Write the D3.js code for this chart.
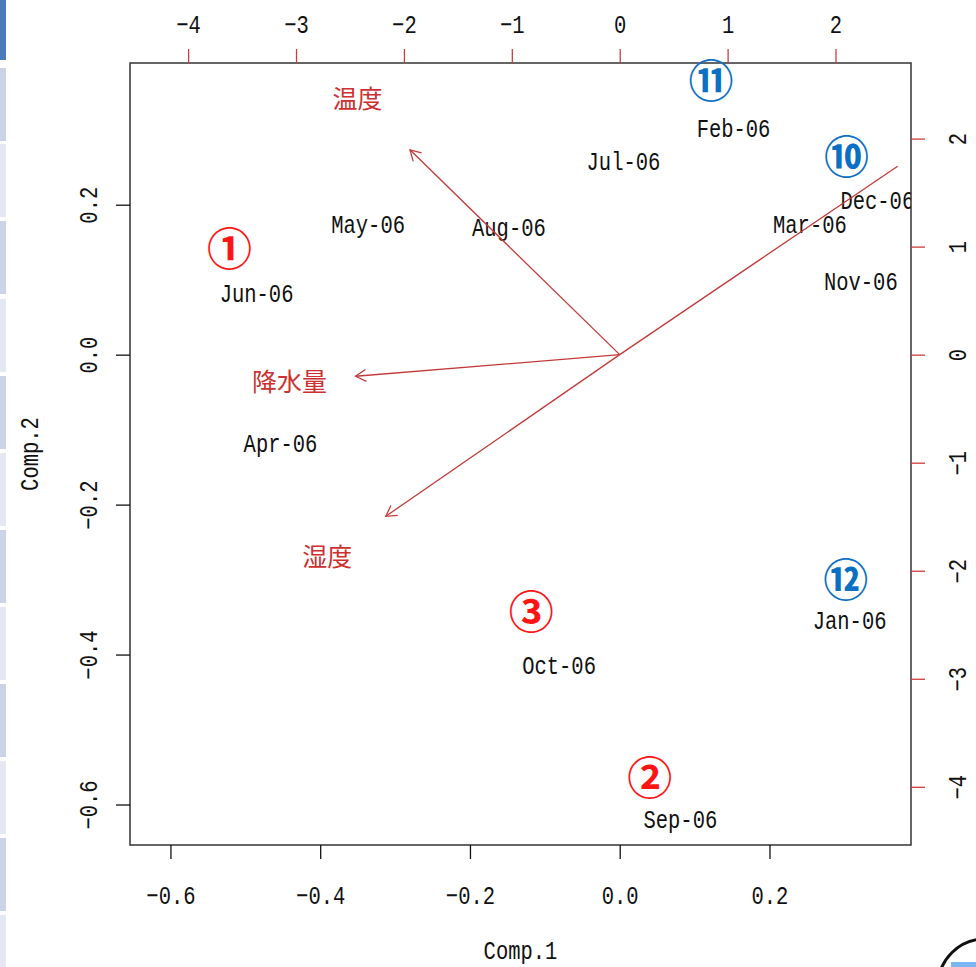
<!DOCTYPE html>
<html>
<head>
<meta charset="utf-8">
<script src="https://cdn.jsdelivr.net/npm/d3@7"></script>
<style>
  body { margin: 0; background: #fff; }
  svg { display: block; }
  .mono { font-family: "Liberation Mono", "DejaVu Sans Mono", monospace; font-size: 20.5px; fill: #111; }
  .jp { font-family: "Noto Sans CJK JP", sans-serif; }
</style>
</head>
<body>
<div id="chart"></div>
<script>
// principal component scores, one per month
var months = ["Jan-06", "Feb-06", "Mar-06", "Apr-06", "May-06", "Jun-06",
              "Jul-06", "Aug-06", "Sep-06", "Oct-06", "Nov-06", "Dec-06"]
var comp1 = [0.307, 0.152, 0.254, -0.453, -0.336, -0.485, 0.005, -0.148, 0.081, -0.081, 0.322, 0.344]
var comp2 = [-0.354, 0.303, 0.175, -0.118, 0.174, 0.082, 0.258, 0.170, -0.619, -0.413, 0.099, 0.207]

// loadings (label position, arrow goes to 0.8 of it)
var varNames = ["温度", "降水量", "湿度", ""]
var load1 = [-2.43, -3.06, -2.71, 3.22]
var load2 = [2.37, -0.25, -1.87, 2.18]

// circled numbers written over the plot
var marks = ["①", "②", "③", "⑩", "⑪", "⑫"]
var markX = [-0.521, 0.040, -0.118, 0.303, 0.122, 0.302]
var markY = [0.140, -0.566, -0.344, 0.263, 0.364, -0.301]
var markGroup = ["red", "red", "red", "blue", "blue", "blue"]

var scoreTicks = [-0.6, -0.4, -0.2, 0.0, 0.2]
var loadTicks = [-4, -3, -2, -1, 0, 1, 2]
var lim = [-0.654, 0.389]
var ratio = 6.94

var W = 976, H = 967
var box = {left: 130, top: 63, right: 911, bottom: 845}
var arrowCol = "#c43a3a"
var stretch = "scale(1,1.25)"

var svg = d3.select("#chart").append("svg")
  .attr("width", W)
  .attr("height", H)

// screenshot chrome: side strip and corner widget
var stripTops = [68, 144, 221, 299, 376, 453, 530, 607, 684, 761, 838, 915]
svg.append("rect").attr("x", 0).attr("y", 0).attr("width", 6).attr("height", 60).attr("fill", "#4a7cbc")
svg.selectAll("rect.strip").data(stripTops).enter().append("rect")
  .attr("class", "strip")
  .attr("x", 0).attr("y", d => d)
  .attr("width", 6).attr("height", 73)
  .attr("fill", (d, i) => i % 2 ? "#e3e8f2" : "#cbd4e7")
svg.append("circle").attr("cx", 985).attr("cy", 986).attr("r", 47)
  .attr("fill", "none").attr("stroke", "#111").attr("stroke-width", 3)
svg.append("rect").attr("x", 951).attr("y", 962).attr("width", 25).attr("height", 5).attr("fill", "#7ab6f2")

var x = d3.scaleLinear().domain(lim).range([box.left, box.right])
var y = d3.scaleLinear().domain(lim).range([box.bottom, box.top])
var lx = d3.scaleLinear().domain(lim.map(v => v * ratio)).range([box.left, box.right])
var ly = d3.scaleLinear().domain(lim.map(v => v * ratio)).range([box.bottom, box.top])

svg.append("clipPath")
  .attr("id", "clip")
  .append("rect")
  .attr("x", box.left)
  .attr("y", box.top)
  .attr("width", box.right - box.left)
  .attr("height", box.bottom - box.top)

var plot = svg.append("g").attr("clip-path", "url(#clip)")

// month labels
months.forEach(function(m, i) {
  plot.append("g")
    .attr("transform", "translate(" + x(comp1[i]) + "," + y(comp2[i]) + ") " + stretch)
    .append("text")
    .attr("class", "mono")
    .attr("text-anchor", "middle")
    .attr("dy", "0.36em")
    .text(m)
})

function head(x0, y0, x1, y1) {
  var a = Math.atan2(y1 - y0, x1 - x0), L = 12, s = Math.PI / 6
  return "M" + (x1 - L * Math.cos(a - s)) + "," + (y1 - L * Math.sin(a - s)) +
    "L" + x1 + "," + y1 +
    "L" + (x1 - L * Math.cos(a + s)) + "," + (y1 - L * Math.sin(a + s))
}

var lo = lim[0] * ratio, hi = lim[1] * ratio
varNames.forEach(function(v, i) {
  var x0 = lx(0), y0 = ly(0)
  var x1 = lx(load1[i] * 0.8), y1 = ly(load2[i] * 0.8)
  plot.append("line")
    .attr("x1", x0).attr("y1", y0).attr("x2", x1).attr("y2", y1)
    .attr("stroke", arrowCol).attr("stroke-width", 1.3)
  // no head when the label falls outside the plot (R drops it)
  var inside = load1[i] > lo && load1[i] < hi && load2[i] > lo && load2[i] < hi
  if (inside) {
    plot.append("path")
      .attr("d", head(x0, y0, x1, y1))
      .attr("fill", "none").attr("stroke", arrowCol).attr("stroke-width", 1.3)
  }
  plot.append("text")
    .attr("class", "jp")
    .attr("x", lx(load1[i])).attr("y", ly(load2[i]))
    .attr("text-anchor", "middle").attr("dy", "0.36em")
    .attr("font-size", 25)
    .attr("fill", "#cc3030")
    .text(v)
})

// frame
svg.append("rect")
  .attr("x", box.left).attr("y", box.top)
  .attr("width", box.right - box.left).attr("height", box.bottom - box.top)
  .attr("fill", "none").attr("stroke", "#333").attr("stroke-width", 1.5)

// axes
function styleAxis(g, tickCol) {
  g.select(".domain").remove()
  g.selectAll(".tick line").attr("stroke", tickCol).attr("stroke-width", 1.3)
  g.selectAll(".tick text").attr("class", "mono").attr("fill", "#111")
}

var axBottom = svg.append("g")
  .attr("transform", "translate(0," + box.bottom + ")")
  .call(d3.axisBottom(x).tickValues(scoreTicks).tickFormat(d3.format(".1f")).tickSize(14).tickPadding(0))
styleAxis(axBottom, "#111")
axBottom.selectAll(".tick text").attr("y", 0)
  .attr("transform", "translate(0,50) " + stretch).attr("dy", "0.36em")

var axLeft = svg.append("g")
  .attr("transform", "translate(" + box.left + ",0)")
  .call(d3.axisLeft(y).tickValues(scoreTicks).tickFormat(d3.format(".1f")).tickSize(14).tickPadding(0))
styleAxis(axLeft, "#111")
axLeft.selectAll(".tick text").attr("x", 0).attr("dy", "0.36em")
  .attr("text-anchor", "middle")
  .attr("transform", "translate(-42,0) rotate(-90) " + stretch)

var axTop = svg.append("g")
  .attr("transform", "translate(0," + box.top + ")")
  .call(d3.axisTop(lx).tickValues(loadTicks).tickSize(14).tickPadding(0))
styleAxis(axTop, "#d03c3c")
axTop.selectAll(".tick text").attr("y", 0)
  .attr("transform", "translate(0,-39) " + stretch).attr("dy", "0.36em")

var axRight = svg.append("g")
  .attr("transform", "translate(" + box.right + ",0)")
  .call(d3.axisRight(ly).tickValues(loadTicks).tickSize(14).tickPadding(0))
styleAxis(axRight, "#d03c3c")
axRight.selectAll(".tick text").attr("x", 0).attr("dy", "0.36em")
  .attr("text-anchor", "middle")
  .attr("transform", "translate(46,0) rotate(-90) " + stretch)

// axis titles
svg.append("g")
  .attr("transform", "translate(" + ((box.left + box.right) / 2) + ",950) " + stretch)
  .append("text").attr("class", "mono").attr("text-anchor", "middle").attr("dy", "0.36em")
  .text("Comp.1")
svg.append("g")
  .attr("transform", "translate(29," + ((box.top + box.bottom) / 2) + ") rotate(-90) " + stretch)
  .append("text").attr("class", "mono").attr("text-anchor", "middle").attr("dy", "0.36em")
  .text("Comp.2")

// circled annotations
var markFill = {red: "#ff1414", blue: "#0b70c4"}
marks.forEach(function(m, i) {
  svg.append("text")
    .attr("class", "jp")
    .attr("x", x(markX[i])).attr("y", y(markY[i]))
    .attr("text-anchor", "middle").attr("dy", "0.36em")
    .attr("font-size", 45)
    .attr("font-weight", 700)
    .attr("fill", markFill[markGroup[i]])
    .text(m)
})
</script>
</body>
</html>
